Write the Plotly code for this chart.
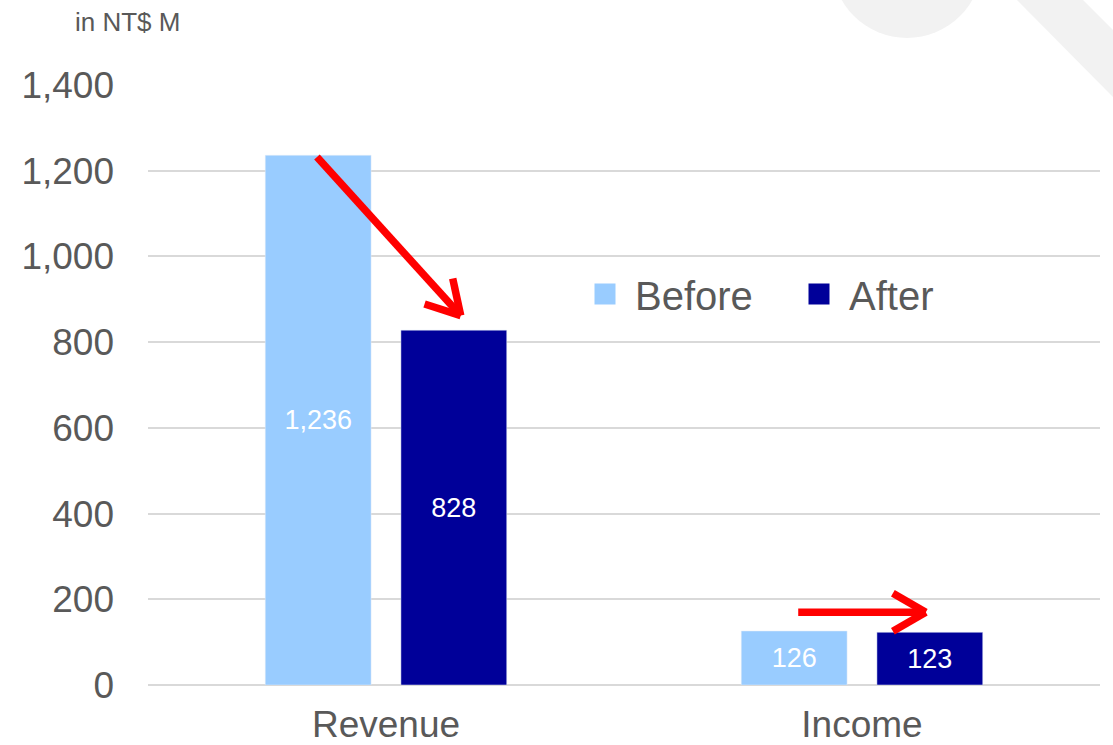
import math
import plotly.graph_objects as go

categories = ["Revenue", "Income"]
before_vals = [1236, 126]
after_vals = [828, 123]
before_labels = ["1,236", "126"]
after_labels = ["828", "123"]
series_names = ["Before", "After"]
series_colors = ["#99ccff", "#000099"]
y_ticks = [0, 200, 400, 600, 800, 1000, 1200, 1400]
y_tick_text = ["0", "200", "400", "600", "800", "1,000", "1,200", "1,400"]

# arrows (tail, tip) in (category position, value)
arrows = [((-0.145, 1232), (0.157, 862)), ((0.866, 170), (1.134, 170))]

W, H = 1113, 745
L, R, T, B = 148, 13, 85, 60
plot_w = W - L - R
plot_h = H - T - B
YMAX = 1400
px_per_cat = plot_w / 2.0
px_per_val = plot_h / YMAX

FONT = "Liberation Sans, Arial, sans-serif"
GREY = "#595959"

fig = go.Figure()
for name, vals, labels, col in [(series_names[0], before_vals, before_labels, series_colors[0]),
                                (series_names[1], after_vals, after_labels, series_colors[1])]:
    fig.add_trace(go.Bar(
        x=categories, y=vals, name=name, marker_color=col, showlegend=False,
        text=labels, textposition="inside", insidetextanchor="middle",
        textfont=dict(color="white", size=27, family=FONT), textangle=0,
    ))
for name, col in zip(series_names, series_colors):
    fig.add_trace(go.Scatter(
        x=[None], y=[None], mode="markers", name=name,
        marker=dict(symbol="square", size=16, color=col, line=dict(color=col, width=5)),
        hoverinfo="skip",
    ))

shapes = []
def pp(x, y):
    return (x - L) / plot_w, (H - B - y) / plot_h

cx, cy = pp(907 - 75, -37 - 75)
cx2, cy2 = pp(907 + 75, -37 + 75)
shapes.append(dict(type="circle", xref="paper", yref="paper", x0=cx, y0=cy2, x1=cx2, y1=cy,
                   fillcolor="#f2f2f2", line=dict(width=0), layer="below"))
poly = [pp(1017, 0), pp(1083, 0), pp(1113, 30), pp(1113, 97)]
path = "M " + " L ".join(f"{a},{b}" for a, b in poly) + " Z"
shapes.append(dict(type="path", xref="paper", yref="paper", path=path,
                   fillcolor="#f2f2f2", line=dict(width=0), layer="below"))

for (x0, y0), (x1, y1) in arrows:
    shapes.append(dict(type="line", xref="x", yref="y", x0=x0, y0=y0, x1=x1, y1=y1,
                       line=dict(color="#ff0000", width=7.5)))
    dx = (x1 - x0) * px_per_cat
    dy = (y1 - y0) * px_per_val
    ang = math.atan2(dy, dx)
    for s in (1, -1):
        a = ang + math.pi - s * math.radians(30)
        ex = x1 + 38 * math.cos(a) / px_per_cat
        ey = y1 + 38 * math.sin(a) / px_per_val
        shapes.append(dict(type="line", xref="x", yref="y", x0=x1, y0=y1, x1=ex, y1=ey,
                           line=dict(color="#ff0000", width=7.5)))

fig.update_layout(
    width=W, height=H,
    margin=dict(l=L, r=R, t=T, b=B, pad=0, autoexpand=False),
    paper_bgcolor="white", plot_bgcolor="rgba(0,0,0,0)",
    barmode="group", bargap=0.43, bargroupgap=0.22,
    font=dict(family=FONT, color=GREY),
    showlegend=True,
    legend=dict(orientation="h", x=(593 - 18 - L) / plot_w, y=(H - B - 294) / plot_h,
                xanchor="left", yanchor="middle",
                font=dict(size=40, color=GREY), bgcolor="rgba(0,0,0,0)",
                itemwidth=50, entrywidth=149, entrywidthmode="pixels",
                traceorder="normal"),
    xaxis=dict(showgrid=False, showline=False, zeroline=False, ticks="", automargin=False,
               tickfont=dict(size=37, color=GREY), ticklabelstandoff=14),
    yaxis=dict(range=[0, YMAX], tickvals=y_ticks, ticktext=y_tick_text, automargin=False,
               showgrid=True, gridcolor="#d9d9d9", gridwidth=1.5,
               zeroline=True, zerolinecolor="#d9d9d9", zerolinewidth=1.5,
               showline=False, ticks="", tickfont=dict(size=37, color=GREY),
               ticklabelstandoff=33),
    shapes=shapes,
    annotations=[dict(text="in NT$ M", xref="paper", yref="paper",
                      x=(73 - L) / plot_w, y=(H - B - 22) / plot_h,
                      xanchor="left", yanchor="middle", showarrow=False,
                      font=dict(size=26, color=GREY, family=FONT))],
)

fig.write_html("out.html", config={"displayModeBar": False},
               post_script="document.body.style.margin='0';")
